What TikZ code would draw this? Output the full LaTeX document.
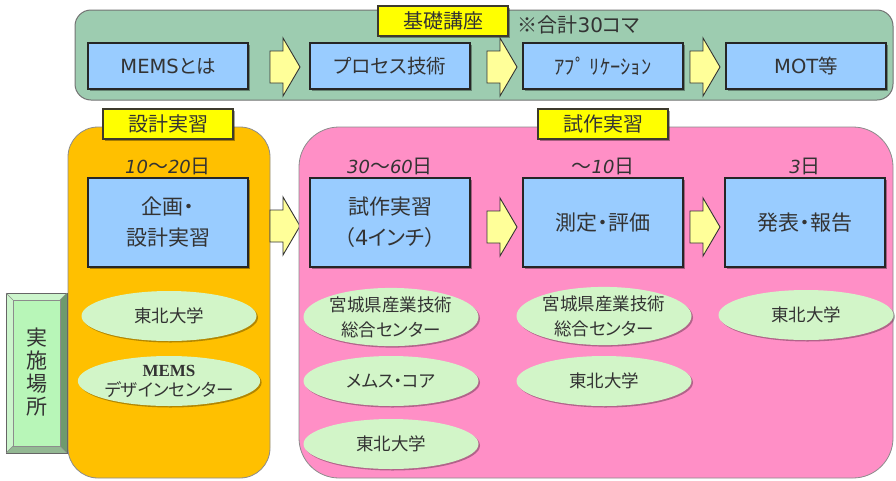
\documentclass[tikz,border=0pt]{standalone}
\usepackage{fontspec}
\setmainfont[RawFeature=+palt]{Noto Sans CJK JP}
\newfontfamily\dv{DejaVu Sans}
\newfontfamily\dvi{DejaVu Sans Oblique}
\newfontfamily\lser{Liberation Serif}
\usetikzlibrary{shadows,shapes.geometric}
\definecolor{topgreen}{HTML}{9DCCB0}
\definecolor{boxblue}{HTML}{99CCFF}
\definecolor{lblyellow}{HTML}{FFFF00}
\definecolor{arrfill}{HTML}{FFFF99}
\definecolor{ellgreen}{HTML}{D2F5C8}
\definecolor{orangebg}{HTML}{FFC000}
\definecolor{pinkbg}{HTML}{FF8FC6}
\definecolor{txt}{HTML}{333333}
\definecolor{bevlight}{HTML}{CCF5CC}
\definecolor{bevdark}{HTML}{6E9A6E}
\definecolor{bevmid}{HTML}{93B893}
\tikzset{
  shd/.style={drop shadow={shadow xshift=2pt,shadow yshift=-2pt,opacity=0.35,fill=black}},
  bluebox/.style={draw=black!85,line width=1.3pt,fill=boxblue,minimum width=160pt,text=txt,align=center,shd,font=\fontsize{19.5}{28}\selectfont},
  bigbox/.style={bluebox,minimum height=89pt,font=\fontsize{21}{31}\selectfont},
  lblbox/.style={draw=black!75!olive,line width=1.3pt,fill=lblyellow,minimum width=130pt,minimum height=30pt,inner sep=0pt,text=txt,font=\fontsize{20}{20}\selectfont,shd},
  ellbox/.style={ellipse,fill=ellgreen,minimum width=175pt,minimum height=50pt,inner sep=0pt,text=txt,align=center,font=\fontsize{17.5}{25}\selectfont,drop shadow={shadow xshift=1.5pt,shadow yshift=-1.5pt,opacity=0.3,fill=black}},
  daylbl/.style={text=txt,font=\fontsize{20}{20}\selectfont},
  blockarrow/.style={draw=black!80,line width=0.9pt,fill=arrfill,line join=miter},
}
\newcommand\dg[1]{{\dvi\fontsize{18}{20}\selectfont #1}}
\newcommand\blockarr[3]{% x, y, name
  \draw[blockarrow] (#1-15,#2-16) -- (#1-2,#2-16) -- (#1-2,#2-29) -- (#1+15,#2) -- (#1-2,#2+29) -- (#1-2,#2+16) -- (#1-15,#2+16) -- cycle;
  \coordinate (#3) at (#1,#2);}
\begin{document}
\begin{tikzpicture}[x=1pt,y=-1pt]
\useasboundingbox[fill=white] (0,0) rectangle (896,480);
% top panel
\draw[fill=topgreen,draw=black!55,line width=1pt,rounded corners=16pt] (75,10) rectangle (893,100);
\node[lblbox] (lkiso) at (443,21) {基礎講座};
\node[anchor=west,text=txt,font=\fontsize{20}{20}\selectfont] (goukei) at (514,25) {※合計{\dv 30}コマ};
\node[bluebox,minimum height=46pt] (t1) at (168,66) {{\dv MEMS}とは};
\node[bluebox,minimum height=46pt] (t2) at (390,66) {プロセス技術};
\node[bluebox,minimum height=46pt] (t3) at (603,66) {\fontsize{20.5}{20}\selectfont ｱﾌﾟ ﾘｹｰｼｮﾝ};
\node[bluebox,minimum height=46pt] (t4) at (806,66) {{\dv MOT}等};
\blockarr{285}{67}{a1}
\blockarr{502}{67}{a2}
\blockarr{705}{67}{a3}
% orange panel
\draw[fill=orangebg,draw=black!45,line width=0.8pt,rounded corners=30pt] (68,127) rectangle (270,478);
\node[lblbox] (lsekkei) at (168,124) {設計実習};
\node[daylbl] (d1) at (168,166) {\dg{10}～\dg{20}日};
\node[bigbox] (p1) at (168,222.5) {企画・\\設計実習};
\node[ellbox] (e11) at (169,316) {東北大学};
\node[ellbox] (e12) at (169,381) {{\lser\bfseries\fontsize{17}{17}\selectfont MEMS}\\[-5pt]デザインセンター};
% place box
\fill[bevlight] (6,293) rectangle (67,453);
\fill[bevdark] (67,293) -- (67,453) -- (60,446) -- (60,300) -- cycle;
\fill[bevmid] (6,453) -- (67,453) -- (60,446) -- (13,446) -- cycle;
\draw[black!60,line width=0.6pt] (6,293) rectangle (67,453);
\draw[black!45,line width=0.5pt,fill=bevlight!90!green] (13,300) rectangle (60,446);
\draw[black!45,line width=0.4pt] (6,293) -- (13,300) (67,293) -- (60,300) (6,453) -- (13,446) (67,453) -- (60,446);
\node[text=txt,align=center,font=\fontsize{21}{23}\selectfont] (basho) at (36.5,372) {実\\施\\場\\所};
\blockarr{285}{226}{a4}
% pink panel
\draw[fill=pinkbg,draw=black!45,line width=0.8pt,rounded corners=40pt] (299,127) rectangle (893,478);
\node[lblbox] (lshisaku) at (603,124) {試作実習};
\node[daylbl] (d2) at (390,166) {\dg{30}～\dg{60}日};
\node[daylbl] (d3) at (603,166) {～\dg{10}日};
\node[daylbl] (d4) at (805,166) {\dg{3}日};
\node[bigbox] (p2) at (390,222.5) {試作実習\\（{\dv 4}インチ）};
\node[bigbox] (p3) at (603,222.5) {測定・評価};
\node[bigbox] (p4) at (805,222.5) {発表・報告};
\blockarr{502}{227}{a5}
\blockarr{705}{227}{a6}
\node[ellbox] (e21) at (391,317) {宮城県産業技術\\総合センター};
\node[ellbox] (e22) at (391,381) {メムス・コア};
\node[ellbox] (e23) at (391,444) {東北大学};
\node[ellbox] (e31) at (604,316) {宮城県産業技術\\総合センター};
\node[ellbox] (e32) at (604,381) {東北大学};
\node[ellbox] (e41) at (806,315) {東北大学};
\end{tikzpicture}
\end{document}
